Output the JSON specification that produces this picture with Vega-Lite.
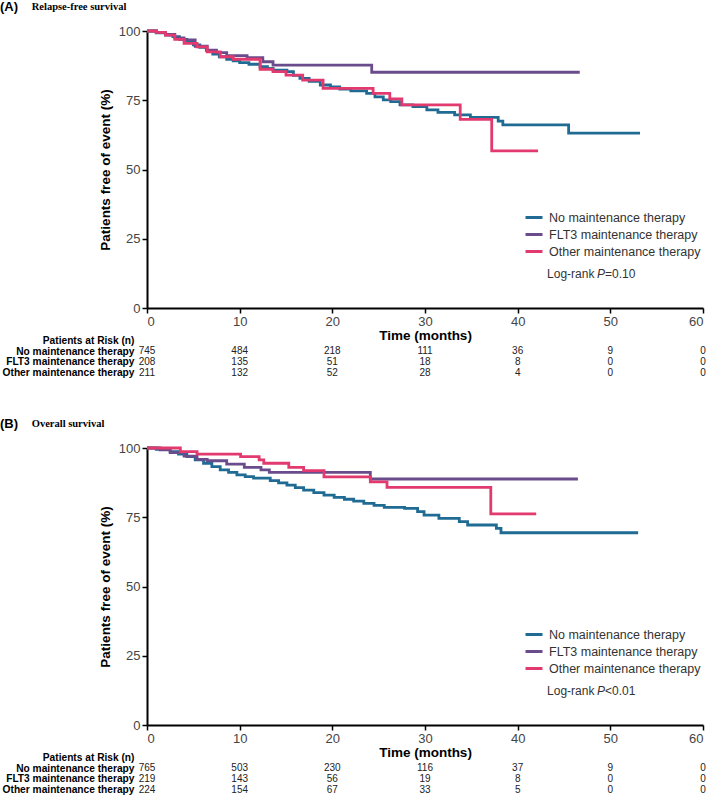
{
  "$schema": "https://vega.github.io/schema/vega-lite/v6.json",
  "background": "white",
  "padding": {"left": 0, "top": 1, "right": 0, "bottom": 0},
  "autosize": {"type": "pad"},
  "config": {
    "view": {"stroke": null},
    "axis": {
      "grid": false,
      "labelFont": "Liberation Sans", "labelFontSize": 13, "labelColor": "#444",
      "titleFont": "Liberation Sans", "titleFontSize": 13.5, "titleFontWeight": "bold", "titleColor": "#000",
      "domainColor": "#000", "domainWidth": 2, "tickColor": "#000", "tickWidth": 1.5, "tickSize": 5, "labelPadding": 2
    },
    "legend": {
      "orient": "none", "legendX": 377, "legendY": 176.5, "title": null,
      "symbolType": "stroke", "symbolStrokeWidth": 3, "symbolSize": 289,
      "labelFont": "Liberation Sans", "labelFontSize": 12.5, "labelColor": "#333",
      "labelOffset": 5, "rowPadding": 0, "padding": 0
    }
  },
  "resolve": {"scale": {"color": "independent"}, "legend": {"color": "independent"}},
  "datasets": {
    "rfs": [
      {"g": "No maintenance therapy", "t": 0, "s": 100},
      {"g": "No maintenance therapy", "t": 1, "s": 99.3},
      {"g": "No maintenance therapy", "t": 2, "s": 98.5},
      {"g": "No maintenance therapy", "t": 2.8, "s": 98},
      {"g": "No maintenance therapy", "t": 3.5, "s": 97},
      {"g": "No maintenance therapy", "t": 4.3, "s": 96.1},
      {"g": "No maintenance therapy", "t": 5, "s": 95},
      {"g": "No maintenance therapy", "t": 5.7, "s": 94.1},
      {"g": "No maintenance therapy", "t": 6.4, "s": 93},
      {"g": "No maintenance therapy", "t": 7.1, "s": 91.7},
      {"g": "No maintenance therapy", "t": 7.8, "s": 90.7},
      {"g": "No maintenance therapy", "t": 8.6, "s": 89.8},
      {"g": "No maintenance therapy", "t": 9.3, "s": 89.2},
      {"g": "No maintenance therapy", "t": 10, "s": 88.6},
      {"g": "No maintenance therapy", "t": 11, "s": 88},
      {"g": "No maintenance therapy", "t": 12.2, "s": 87.1},
      {"g": "No maintenance therapy", "t": 13, "s": 86.5},
      {"g": "No maintenance therapy", "t": 13.6, "s": 85.9},
      {"g": "No maintenance therapy", "t": 15.1, "s": 85.3},
      {"g": "No maintenance therapy", "t": 15.8, "s": 84},
      {"g": "No maintenance therapy", "t": 16.5, "s": 82.9},
      {"g": "No maintenance therapy", "t": 17.5, "s": 81.8},
      {"g": "No maintenance therapy", "t": 18.7, "s": 80.5},
      {"g": "No maintenance therapy", "t": 19.8, "s": 79.8},
      {"g": "No maintenance therapy", "t": 20.8, "s": 79},
      {"g": "No maintenance therapy", "t": 22, "s": 78.4},
      {"g": "No maintenance therapy", "t": 23.7, "s": 77.5},
      {"g": "No maintenance therapy", "t": 24.6, "s": 76.2},
      {"g": "No maintenance therapy", "t": 25.5, "s": 75.1},
      {"g": "No maintenance therapy", "t": 26.3, "s": 74.5},
      {"g": "No maintenance therapy", "t": 27.3, "s": 73.3},
      {"g": "No maintenance therapy", "t": 28.7, "s": 72.7},
      {"g": "No maintenance therapy", "t": 30.2, "s": 71.5},
      {"g": "No maintenance therapy", "t": 31.4, "s": 70.6},
      {"g": "No maintenance therapy", "t": 33.2, "s": 69.7},
      {"g": "No maintenance therapy", "t": 34.9, "s": 68.8},
      {"g": "No maintenance therapy", "t": 37.9, "s": 67.5},
      {"g": "No maintenance therapy", "t": 38.4, "s": 66.1},
      {"g": "No maintenance therapy", "t": 45.5, "s": 63.1},
      {"g": "No maintenance therapy", "t": 53.2, "s": 63.1},
      {"g": "FLT3 maintenance therapy", "t": 0, "s": 100},
      {"g": "FLT3 maintenance therapy", "t": 1, "s": 99.5},
      {"g": "FLT3 maintenance therapy", "t": 2, "s": 98.8},
      {"g": "FLT3 maintenance therapy", "t": 3, "s": 97.5},
      {"g": "FLT3 maintenance therapy", "t": 4, "s": 96.8},
      {"g": "FLT3 maintenance therapy", "t": 5.2, "s": 94.5},
      {"g": "FLT3 maintenance therapy", "t": 6.5, "s": 93.1},
      {"g": "FLT3 maintenance therapy", "t": 7.5, "s": 92.2},
      {"g": "FLT3 maintenance therapy", "t": 8.6, "s": 91.1},
      {"g": "FLT3 maintenance therapy", "t": 10.8, "s": 90.4},
      {"g": "FLT3 maintenance therapy", "t": 12.5, "s": 88.9},
      {"g": "FLT3 maintenance therapy", "t": 13.6, "s": 87.7},
      {"g": "FLT3 maintenance therapy", "t": 24.25, "s": 85.1},
      {"g": "FLT3 maintenance therapy", "t": 46.7, "s": 85.1},
      {"g": "Other maintenance therapy", "t": 0, "s": 100},
      {"g": "Other maintenance therapy", "t": 1, "s": 99.5},
      {"g": "Other maintenance therapy", "t": 2, "s": 98.5},
      {"g": "Other maintenance therapy", "t": 3, "s": 97},
      {"g": "Other maintenance therapy", "t": 4, "s": 95.5},
      {"g": "Other maintenance therapy", "t": 5.4, "s": 94.3},
      {"g": "Other maintenance therapy", "t": 6.5, "s": 92.5},
      {"g": "Other maintenance therapy", "t": 7.9, "s": 90.7},
      {"g": "Other maintenance therapy", "t": 9.3, "s": 89.8},
      {"g": "Other maintenance therapy", "t": 12.2, "s": 86.2},
      {"g": "Other maintenance therapy", "t": 13.6, "s": 85.3},
      {"g": "Other maintenance therapy", "t": 15, "s": 84.1},
      {"g": "Other maintenance therapy", "t": 16.8, "s": 82.3},
      {"g": "Other maintenance therapy", "t": 19, "s": 79.3},
      {"g": "Other maintenance therapy", "t": 24.4, "s": 77.5},
      {"g": "Other maintenance therapy", "t": 26.2, "s": 75.5},
      {"g": "Other maintenance therapy", "t": 27.5, "s": 73.3},
      {"g": "Other maintenance therapy", "t": 33.8, "s": 68.1},
      {"g": "Other maintenance therapy", "t": 37.2, "s": 56.7},
      {"g": "Other maintenance therapy", "t": 42.2, "s": 56.7}
    ],
    "os": [
      {"g": "No maintenance therapy", "t": 0, "s": 100},
      {"g": "No maintenance therapy", "t": 1, "s": 99.5},
      {"g": "No maintenance therapy", "t": 2.5, "s": 98.7},
      {"g": "No maintenance therapy", "t": 3.4, "s": 97.8},
      {"g": "No maintenance therapy", "t": 4.3, "s": 96.9},
      {"g": "No maintenance therapy", "t": 5.2, "s": 95.7},
      {"g": "No maintenance therapy", "t": 6.1, "s": 94.5},
      {"g": "No maintenance therapy", "t": 7, "s": 93.3},
      {"g": "No maintenance therapy", "t": 7.9, "s": 92.1},
      {"g": "No maintenance therapy", "t": 8.8, "s": 91.2},
      {"g": "No maintenance therapy", "t": 9.7, "s": 90.3},
      {"g": "No maintenance therapy", "t": 10.6, "s": 89.7},
      {"g": "No maintenance therapy", "t": 11.5, "s": 89.1},
      {"g": "No maintenance therapy", "t": 13.3, "s": 88.2},
      {"g": "No maintenance therapy", "t": 14.2, "s": 87.4},
      {"g": "No maintenance therapy", "t": 15.1, "s": 86.6},
      {"g": "No maintenance therapy", "t": 16, "s": 85.7},
      {"g": "No maintenance therapy", "t": 16.9, "s": 84.8},
      {"g": "No maintenance therapy", "t": 18, "s": 83.9},
      {"g": "No maintenance therapy", "t": 19.1, "s": 83},
      {"g": "No maintenance therapy", "t": 20.2, "s": 82.2},
      {"g": "No maintenance therapy", "t": 21.3, "s": 81.5},
      {"g": "No maintenance therapy", "t": 22.3, "s": 80.8},
      {"g": "No maintenance therapy", "t": 23.4, "s": 80},
      {"g": "No maintenance therapy", "t": 24.5, "s": 79.3},
      {"g": "No maintenance therapy", "t": 25.6, "s": 78.6},
      {"g": "No maintenance therapy", "t": 27.8, "s": 78.2},
      {"g": "No maintenance therapy", "t": 29.2, "s": 77},
      {"g": "No maintenance therapy", "t": 29.9, "s": 75.8},
      {"g": "No maintenance therapy", "t": 31.5, "s": 74.6},
      {"g": "No maintenance therapy", "t": 33.7, "s": 73.4},
      {"g": "No maintenance therapy", "t": 34.6, "s": 72.2},
      {"g": "No maintenance therapy", "t": 37.7, "s": 71},
      {"g": "No maintenance therapy", "t": 38.2, "s": 69.4},
      {"g": "No maintenance therapy", "t": 53, "s": 69.4},
      {"g": "FLT3 maintenance therapy", "t": 0, "s": 100},
      {"g": "FLT3 maintenance therapy", "t": 1.4, "s": 99.3},
      {"g": "FLT3 maintenance therapy", "t": 2.5, "s": 98.3},
      {"g": "FLT3 maintenance therapy", "t": 4, "s": 97.1},
      {"g": "FLT3 maintenance therapy", "t": 5.4, "s": 95.9},
      {"g": "FLT3 maintenance therapy", "t": 6.5, "s": 95.4},
      {"g": "FLT3 maintenance therapy", "t": 8.6, "s": 94.2},
      {"g": "FLT3 maintenance therapy", "t": 10.5, "s": 93},
      {"g": "FLT3 maintenance therapy", "t": 12.3, "s": 92.1},
      {"g": "FLT3 maintenance therapy", "t": 13.2, "s": 91.2},
      {"g": "FLT3 maintenance therapy", "t": 24.1, "s": 88.8},
      {"g": "FLT3 maintenance therapy", "t": 46.5, "s": 88.8},
      {"g": "Other maintenance therapy", "t": 0, "s": 100},
      {"g": "Other maintenance therapy", "t": 3.6, "s": 98.7},
      {"g": "Other maintenance therapy", "t": 5.4, "s": 97.8},
      {"g": "Other maintenance therapy", "t": 10.1, "s": 96.9},
      {"g": "Other maintenance therapy", "t": 12.1, "s": 95.7},
      {"g": "Other maintenance therapy", "t": 12.6, "s": 94.5},
      {"g": "Other maintenance therapy", "t": 15.3, "s": 93},
      {"g": "Other maintenance therapy", "t": 16.9, "s": 91.8},
      {"g": "Other maintenance therapy", "t": 19.1, "s": 89.6},
      {"g": "Other maintenance therapy", "t": 24.1, "s": 87.8},
      {"g": "Other maintenance therapy", "t": 25.9, "s": 85.8},
      {"g": "Other maintenance therapy", "t": 37.1, "s": 76.2},
      {"g": "Other maintenance therapy", "t": 42, "s": 76.2}
    ],
    "riskA": [
      {"g": "No maintenance therapy", "t": 0, "n": 745},
      {"g": "No maintenance therapy", "t": 10, "n": 484},
      {"g": "No maintenance therapy", "t": 20, "n": 218},
      {"g": "No maintenance therapy", "t": 30, "n": 111},
      {"g": "No maintenance therapy", "t": 40, "n": 36},
      {"g": "No maintenance therapy", "t": 50, "n": 9},
      {"g": "No maintenance therapy", "t": 60, "n": 0},
      {"g": "FLT3 maintenance therapy", "t": 0, "n": 208},
      {"g": "FLT3 maintenance therapy", "t": 10, "n": 135},
      {"g": "FLT3 maintenance therapy", "t": 20, "n": 51},
      {"g": "FLT3 maintenance therapy", "t": 30, "n": 18},
      {"g": "FLT3 maintenance therapy", "t": 40, "n": 8},
      {"g": "FLT3 maintenance therapy", "t": 50, "n": 0},
      {"g": "FLT3 maintenance therapy", "t": 60, "n": 0},
      {"g": "Other maintenance therapy", "t": 0, "n": 211},
      {"g": "Other maintenance therapy", "t": 10, "n": 132},
      {"g": "Other maintenance therapy", "t": 20, "n": 52},
      {"g": "Other maintenance therapy", "t": 30, "n": 28},
      {"g": "Other maintenance therapy", "t": 40, "n": 4},
      {"g": "Other maintenance therapy", "t": 50, "n": 0},
      {"g": "Other maintenance therapy", "t": 60, "n": 0}
    ],
    "riskB": [
      {"g": "No maintenance therapy", "t": 0, "n": 765},
      {"g": "No maintenance therapy", "t": 10, "n": 503},
      {"g": "No maintenance therapy", "t": 20, "n": 230},
      {"g": "No maintenance therapy", "t": 30, "n": 116},
      {"g": "No maintenance therapy", "t": 40, "n": 37},
      {"g": "No maintenance therapy", "t": 50, "n": 9},
      {"g": "No maintenance therapy", "t": 60, "n": 0},
      {"g": "FLT3 maintenance therapy", "t": 0, "n": 219},
      {"g": "FLT3 maintenance therapy", "t": 10, "n": 143},
      {"g": "FLT3 maintenance therapy", "t": 20, "n": 56},
      {"g": "FLT3 maintenance therapy", "t": 30, "n": 19},
      {"g": "FLT3 maintenance therapy", "t": 40, "n": 8},
      {"g": "FLT3 maintenance therapy", "t": 50, "n": 0},
      {"g": "FLT3 maintenance therapy", "t": 60, "n": 0},
      {"g": "Other maintenance therapy", "t": 0, "n": 224},
      {"g": "Other maintenance therapy", "t": 10, "n": 154},
      {"g": "Other maintenance therapy", "t": 20, "n": 67},
      {"g": "Other maintenance therapy", "t": 30, "n": 33},
      {"g": "Other maintenance therapy", "t": 40, "n": 5},
      {"g": "Other maintenance therapy", "t": 50, "n": 0},
      {"g": "Other maintenance therapy", "t": 60, "n": 0}
    ]
  },
  "spacing": 40,
  "vconcat": [
    {
      "bounds": "flush",
      "spacing": 27,
      "vconcat": [
        {
          "width": 556,
          "height": 277,
          "layer": [
            {
              "data": {"name": "rfs"},
              "mark": {"type": "line", "interpolate": "step-after", "strokeWidth": 2.8},
              "encoding": {
                "x": {"field": "t", "type": "quantitative", "scale": {"domain": [0, 60]},
                      "axis": {"values": [0, 10, 20, 30, 40, 50, 60], "title": "Time (months)", "titlePadding": 0}},
                "y": {"field": "s", "type": "quantitative", "scale": {"domain": [0, 100]},
                      "axis": {"values": [0, 25, 50, 75, 100], "title": "Patients free of event (%)", "titlePadding": 6}},
                "color": {"field": "g", "type": "nominal",
                          "scale": {"domain": ["No maintenance therapy", "FLT3 maintenance therapy", "Other maintenance therapy"],
                                    "range": ["#1f6b93", "#6a4c8c", "#e23a6e"]}}
              }
            },
            {
              "data": {"values": [{}]},
              "mark": {"type": "text", "text": "(A)", "align": "left", "font": "Liberation Sans", "fontSize": 13, "fontWeight": "bold", "color": "#000"},
              "encoding": {"x": {"datum": -15.86, "type": "quantitative"}, "y": {"datum": 108.6, "type": "quantitative"}}
            },
            {
              "data": {"values": [{}]},
              "mark": {"type": "text", "text": "Relapse-free survival", "align": "left", "font": "Liberation Serif", "fontSize": 10.5, "fontWeight": "bold", "color": "#000"},
              "encoding": {"x": {"datum": -12.44, "type": "quantitative"}, "y": {"datum": 108.6, "type": "quantitative"}}
            },
            {
              "data": {"values": [{}]},
              "mark": {"type": "text", "text": "Log-rank", "align": "left", "font": "Liberation Sans", "fontSize": 12, "color": "#333"},
              "encoding": {"x": {"datum": 43.17, "type": "quantitative"}, "y": {"datum": 12.4, "type": "quantitative"}}
            },
            {
              "data": {"values": [{}]},
              "mark": {"type": "text", "text": "P", "align": "left", "font": "Liberation Sans", "fontSize": 12, "fontStyle": "italic", "color": "#333"},
              "encoding": {"x": {"datum": 48.56, "type": "quantitative"}, "y": {"datum": 12.4, "type": "quantitative"}}
            },
            {
              "data": {"values": [{}]},
              "mark": {"type": "text", "text": "=0.10", "align": "left", "font": "Liberation Sans", "fontSize": 12, "color": "#333"},
              "encoding": {"x": {"datum": 49.42, "type": "quantitative"}, "y": {"datum": 12.4, "type": "quantitative"}}
            }
          ]
        },
        {
          "width": 556,
          "height": 43,
          "data": {"name": "riskA"},
          "mark": {"type": "text", "font": "Liberation Sans", "fontSize": 10, "color": "#222"},
          "encoding": {
            "x": {"field": "t", "type": "quantitative", "scale": {"domain": [0, 60]}, "axis": null},
            "y": {"field": "g", "type": "nominal",
                  "scale": {"domain": ["Patients at Risk (n)", "No maintenance therapy", "FLT3 maintenance therapy", "Other maintenance therapy"], "paddingInner": 0, "paddingOuter": 0},
                  "axis": {"title": null, "domain": false, "ticks": false, "labelPadding": 13, "labelFontWeight": "bold", "labelFontSize": 10.2, "labelColor": "#000"}},
            "text": {"field": "n", "type": "quantitative"}
          }
        }
      ]
    },
    {
      "bounds": "flush",
      "spacing": 27,
      "vconcat": [
        {
          "width": 556,
          "height": 277,
          "layer": [
            {
              "data": {"name": "os"},
              "mark": {"type": "line", "interpolate": "step-after", "strokeWidth": 2.8},
              "encoding": {
                "x": {"field": "t", "type": "quantitative", "scale": {"domain": [0, 60]},
                      "axis": {"values": [0, 10, 20, 30, 40, 50, 60], "title": "Time (months)", "titlePadding": 0}},
                "y": {"field": "s", "type": "quantitative", "scale": {"domain": [0, 100]},
                      "axis": {"values": [0, 25, 50, 75, 100], "title": "Patients free of event (%)", "titlePadding": 6}},
                "color": {"field": "g", "type": "nominal",
                          "scale": {"domain": ["No maintenance therapy", "FLT3 maintenance therapy", "Other maintenance therapy"],
                                    "range": ["#1f6b93", "#6a4c8c", "#e23a6e"]}}
              }
            },
            {
              "data": {"values": [{}]},
              "mark": {"type": "text", "text": "(B)", "align": "left", "font": "Liberation Sans", "fontSize": 13, "fontWeight": "bold", "color": "#000"},
              "encoding": {"x": {"datum": -15.86, "type": "quantitative"}, "y": {"datum": 108.6, "type": "quantitative"}}
            },
            {
              "data": {"values": [{}]},
              "mark": {"type": "text", "text": "Overall survival", "align": "left", "font": "Liberation Serif", "fontSize": 10.5, "fontWeight": "bold", "color": "#000"},
              "encoding": {"x": {"datum": -12.44, "type": "quantitative"}, "y": {"datum": 108.6, "type": "quantitative"}}
            },
            {
              "data": {"values": [{}]},
              "mark": {"type": "text", "text": "Log-rank", "align": "left", "font": "Liberation Sans", "fontSize": 12, "color": "#333"},
              "encoding": {"x": {"datum": 43.17, "type": "quantitative"}, "y": {"datum": 12.4, "type": "quantitative"}}
            },
            {
              "data": {"values": [{}]},
              "mark": {"type": "text", "text": "P", "align": "left", "font": "Liberation Sans", "fontSize": 12, "fontStyle": "italic", "color": "#333"},
              "encoding": {"x": {"datum": 48.56, "type": "quantitative"}, "y": {"datum": 12.4, "type": "quantitative"}}
            },
            {
              "data": {"values": [{}]},
              "mark": {"type": "text", "text": "<0.01", "align": "left", "font": "Liberation Sans", "fontSize": 12, "color": "#333"},
              "encoding": {"x": {"datum": 49.42, "type": "quantitative"}, "y": {"datum": 12.4, "type": "quantitative"}}
            }
          ]
        },
        {
          "width": 556,
          "height": 43,
          "data": {"name": "riskB"},
          "mark": {"type": "text", "font": "Liberation Sans", "fontSize": 10, "color": "#222"},
          "encoding": {
            "x": {"field": "t", "type": "quantitative", "scale": {"domain": [0, 60]}, "axis": null},
            "y": {"field": "g", "type": "nominal",
                  "scale": {"domain": ["Patients at Risk (n)", "No maintenance therapy", "FLT3 maintenance therapy", "Other maintenance therapy"], "paddingInner": 0, "paddingOuter": 0},
                  "axis": {"title": null, "domain": false, "ticks": false, "labelPadding": 13, "labelFontWeight": "bold", "labelFontSize": 10.2, "labelColor": "#000"}},
            "text": {"field": "n", "type": "quantitative"}
          }
        }
      ]
    }
  ]
}
